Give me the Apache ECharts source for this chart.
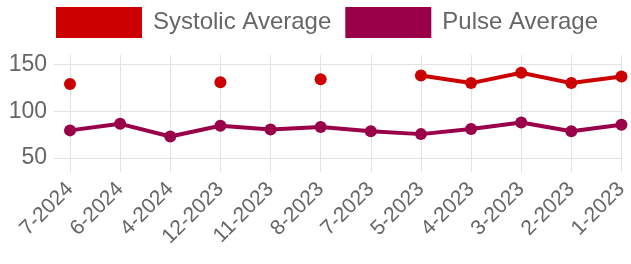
<!DOCTYPE html>
<html>
<head>
<meta charset="utf-8">
<script src="https://cdn.jsdelivr.net/npm/echarts@6/dist/echarts.min.js"></script>
<style>
  html, body { margin: 0; padding: 0; background: #fff; }
  #chart { width: 631px; height: 264px; }
</style>
</head>
<body>
<div id="chart"></div>
<script>
const months = ['7-2024', '6-2024', '4-2024', '12-2023', '11-2023', '8-2023', '7-2023', '5-2023', '4-2023', '3-2023', '2-2023', '1-2023'];
const systolicAvg = [129, null, null, 131, null, 134, null, 138, 130, 141, 130, 137];
const pulseAvg = [79.5, 86.5, 73, 84.5, 80.5, 83, 78.5, 75.5, 81, 88, 78.5, 85.5];
const yTicks = [50, 100, 150];

const gridColor = '#e2e2e2';
const textColor = '#666';
const font = 'Liberation Sans, Arial, sans-serif';

const chart = echarts.init(document.getElementById('chart'));

function lineSeries(name, data, color) {
  return {
    name: name,
    type: 'line',
    data: data,
    connectNulls: false,
    symbol: 'circle',
    symbolSize: 12,
    showAllSymbol: true,
    lineStyle: { width: 4, color: color },
    itemStyle: { color: color },
    emphasis: { disabled: true }
  };
}

chart.setOption({
  animation: false,
  legend: {
    top: 2,
    left: 51,
    itemWidth: 86,
    itemHeight: 31,
    itemGap: 14,
    icon: 'rect',
    textStyle: { fontSize: 24, color: textColor, fontFamily: font, padding: [0, 0, 0, 6] },
    data: ['Systolic Average', 'Pulse Average']
  },
  grid: { left: 70, right: 5, top: 55, bottom: 106 },
  xAxis: {
    type: 'category',
    data: months,
    boundaryGap: false,
    axisLine: { lineStyle: { color: gridColor } },
    axisTick: { show: true, length: 14, lineStyle: { color: gridColor } },
    splitLine: { show: true, lineStyle: { color: gridColor } },
    axisLabel: { rotate: 45, margin: 28, fontSize: 21, color: textColor, fontFamily: font, interval: 0 }
  },
  yAxis: {
    type: 'value',
    min: 50,
    max: 160,
    interval: 50,
    axisLine: { show: true, lineStyle: { color: gridColor } },
    axisTick: { show: true, length: 16, lineStyle: { color: gridColor } },
    splitLine: { show: true, showMaxLine: false, lineStyle: { color: gridColor } },
    axisLabel: {
      showMaxLabel: false,
      margin: 23,
      fontSize: 23,
      color: textColor,
      fontFamily: font,
      formatter: v => (yTicks.includes(v) ? String(v) : '')
    }
  },
  series: [
    lineSeries('Systolic Average', systolicAvg, '#cc0000'),
    lineSeries('Pulse Average', pulseAvg, '#990049')
  ]
});
</script>
</body>
</html>
